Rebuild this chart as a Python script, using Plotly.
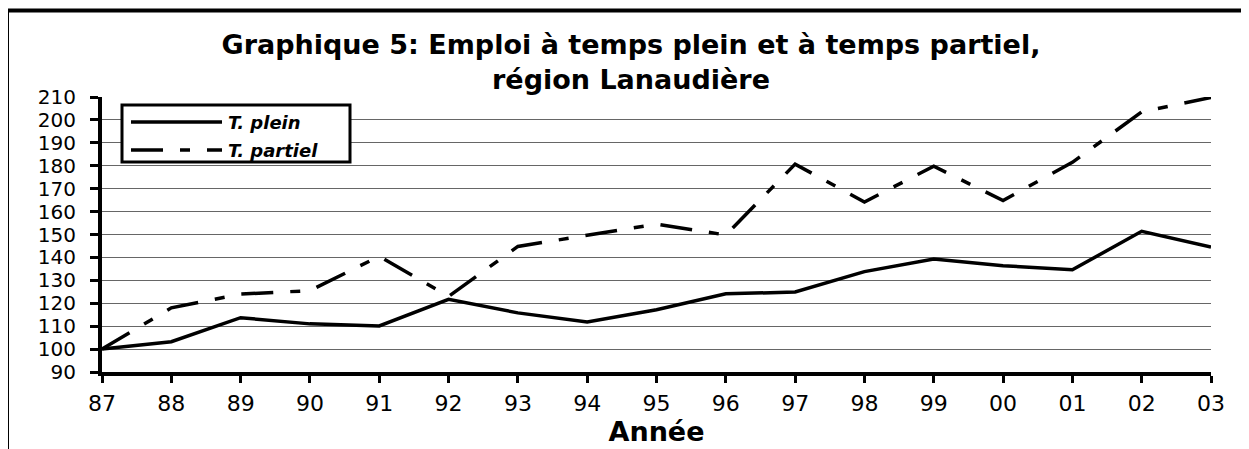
import plotly.graph_objects as go

# ---- data ----
annees = ["87", "88", "89", "90", "91", "92", "93", "94", "95", "96",
          "97", "98", "99", "00", "01", "02", "03"]
temps_plein = [100, 103.2, 113.7, 111.0, 110.1, 121.7, 115.8, 111.8, 117.2,
               124.1, 124.9, 133.8, 139.3, 136.4, 134.6, 151.4, 144.5]
temps_partiel = [100, 118.0, 124.0, 125.5, 140.5, 123.0, 144.8, 149.5, 154.5,
                 149.8, 180.7, 164.2, 179.8, 164.8, 181.5, 203.5, 209.8]
y_ticks = list(range(90, 211, 10))

title_text = "Graphique 5: Emploi à temps plein et à temps partiel,<br>région Lanaudière"
x_title = "Année"
legend_names = ["T. plein", "T. partiel"]

DASH = "32px,17px,10px,17px"
FONT = "DejaVu Sans"
LW = 3.5

fig = go.Figure()
fig.add_trace(go.Scatter(x=annees, y=temps_plein, mode="lines", name=legend_names[0],
                         line=dict(color="black", width=LW), showlegend=False))
fig.add_trace(go.Scatter(x=annees, y=temps_partiel, mode="lines", name=legend_names[1],
                         line=dict(color="black", width=LW, dash=DASH), showlegend=False))

# page has an 8px body margin; geometry below is in page pixels
OFF = 8
W, H = 1241, 441
PL, PR, PT, PB = 102, 1211, 97, 372  # plot area in page pixels
L, T = PL - OFF, PT - OFF
R = W - (PR - OFF)
B = H - (PB - OFF)
pw, ph = PR - PL, PB - PT


def px(x):
    return (x - PL) / pw


def py(y):
    return (PB - y) / ph


fig.update_layout(
    width=W, height=H, autosize=False,
    margin=dict(l=L, r=R, t=T, b=B),
    paper_bgcolor="white", plot_bgcolor="white",
    title=dict(text=title_text, x=(631 - OFF) / W, xanchor="center", xref="container",
               y=1 - 46 / H, yanchor="middle", yref="container",
               font=dict(family=FONT, size=27, color="black", weight="bold")),
    xaxis=dict(type="category", range=[0, len(annees) - 1],
               showline=True, linecolor="black", linewidth=4,
               ticks="outside", ticklen=7, tickwidth=3, tickcolor="black",
               ticklabelstandoff=2,
               tickfont=dict(family=FONT, size=22, color="black"),
               showgrid=False, zeroline=False,
               title=dict(text=x_title, standoff=1,
                          font=dict(family=FONT, size=27, color="black", weight="bold"))),
    yaxis=dict(range=[90, 210], tickvals=y_ticks,
               showline=True, linecolor="black", linewidth=4,
               ticks="outside", ticklen=8, tickwidth=3, tickcolor="black",
               ticklabelstandoff=10,
               tickfont=dict(family=FONT, size=20, color="black"),
               showgrid=True, gridcolor="#666666", gridwidth=1, zeroline=False),
    xaxis2=dict(overlaying="x", anchor="y", side="bottom", range=[0, len(annees) - 1],
                tickmode="linear", tick0=0, dtick=1,
                ticks="inside", ticklen=7, tickwidth=3, tickcolor="black",
                showticklabels=False, showgrid=False, zeroline=False, showline=False),
    yaxis2=dict(overlaying="y", anchor="x", side="left", range=[90, 210], tickvals=y_ticks,
                ticks="inside", ticklen=8, tickwidth=3, tickcolor="black",
                showticklabels=False, showgrid=False, zeroline=False, showline=False),
    showlegend=False,
)

shapes = []
# outer frame (top and left visible)
shapes.append(dict(type="rect", xref="paper", yref="paper",
                   x0=px(7), x1=px(1270), y0=py(480), y1=py(10.5),
                   line=dict(color="black", width=4), fillcolor="rgba(0,0,0,0)", layer="above"))
# custom legend box
shapes.append(dict(type="rect", xref="paper", yref="paper",
                   x0=px(122), x1=px(350), y0=py(162), y1=py(105),
                   line=dict(color="black", width=3), fillcolor="white", layer="above"))
shapes.append(dict(type="line", xref="paper", yref="paper",
                   x0=px(131), x1=px(222), y0=py(122), y1=py(122),
                   line=dict(color="black", width=LW), layer="above"))
shapes.append(dict(type="line", xref="paper", yref="paper",
                   x0=px(131), x1=px(222), y0=py(150), y1=py(150),
                   line=dict(color="black", width=LW, dash=DASH), layer="above"))
fig.update_layout(shapes=shapes)

for name, yy in zip(legend_names, [122, 150]):
    fig.add_annotation(text=name, xref="paper", yref="paper", x=px(226), y=py(yy),
                       xanchor="left", yanchor="middle", showarrow=False,
                       font=dict(family=FONT, size=18, color="black", weight="bold", style="italic"))

fig.write_html("out.html")
